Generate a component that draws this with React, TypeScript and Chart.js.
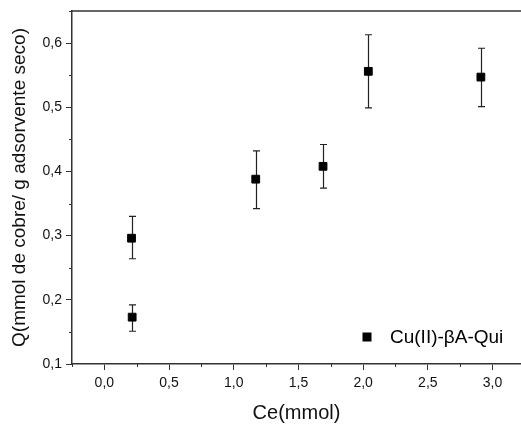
import React, { useEffect, useRef } from "react";
import { Chart, registerables } from "chart.js";

Chart.register(...registerables);

const seriesLabel = "Cu(II)-βA-Qui";
const ceValues = [0.21, 0.215, 1.17, 1.69, 2.04, 2.91];
const qValues = [0.296, 0.173, 0.388, 0.408, 0.556, 0.547];
const qErrHigh = [0.33, 0.192, 0.432, 0.442, 0.613, 0.592];
const qErrLow = [0.264, 0.151, 0.342, 0.374, 0.499, 0.501];
const xTicks = [0, 0.5, 1.0, 1.5, 2.0, 2.5, 3.0];
const yTicks = [0.1, 0.2, 0.3, 0.4, 0.5, 0.6];
const xMinorTicks = [-0.25, 0.25, 0.75, 1.25, 1.75, 2.25, 2.75, 3.25];
const yMinorTicks = [0.15, 0.25, 0.35, 0.45, 0.55, 0.65];

const FONT = "Arial, 'Liberation Sans', sans-serif";
const fmt = (v: number) => v.toFixed(1).replace(".", ",");

const decorPlugin = {
  id: "decor",
  beforeDatasetsDraw(chart: any) {
    const { ctx, scales } = chart;
    const xs = scales.x;
    const ys = scales.y;
    ctx.save();
    ctx.strokeStyle = "#222";
    ctx.lineWidth = 1.2;
    for (let i = 0; i < ceValues.length; i++) {
      const px = Math.round(xs.getPixelForValue(ceValues[i])) + 0.5;
      const top = ys.getPixelForValue(qErrHigh[i]);
      const bot = ys.getPixelForValue(qErrLow[i]);
      ctx.beginPath();
      ctx.moveTo(px, top);
      ctx.lineTo(px, bot);
      ctx.moveTo(px - 3.5, top);
      ctx.lineTo(px + 3.5, top);
      ctx.moveTo(px - 3.5, bot);
      ctx.lineTo(px + 3.5, bot);
      ctx.stroke();
    }
    ctx.restore();
  },
  afterDraw(chart: any) {
    const { ctx, chartArea, scales } = chart;
    const xs = scales.x;
    const ys = scales.y;
    ctx.save();
    ctx.strokeStyle = "#333";
    ctx.lineWidth = 1.5;
    ctx.beginPath();
    ctx.moveTo(chartArea.left, chartArea.top);
    ctx.lineTo(chartArea.right, chartArea.top);
    ctx.stroke();
    ctx.lineWidth = 1;
    ctx.beginPath();
    for (const v of xMinorTicks) {
      const px = Math.round(xs.getPixelForValue(v)) + 0.5;
      if (px < chartArea.left - 1 || px > chartArea.right) continue;
      ctx.moveTo(px, chartArea.bottom);
      ctx.lineTo(px, chartArea.bottom + 3);
    }
    for (const v of yMinorTicks) {
      const py = Math.round(ys.getPixelForValue(v)) + 0.5;
      if (py < chartArea.top || py > chartArea.bottom) continue;
      ctx.moveTo(chartArea.left, py);
      ctx.lineTo(chartArea.left - 3, py);
    }
    ctx.stroke();
    // legend
    const mx = chartArea.right - 154;
    const my = chartArea.bottom - 27;
    ctx.fillStyle = "#000";
    ctx.fillRect(mx - 4.5, my - 4.5, 9, 9);
    ctx.font = `19px ${FONT}`;
    ctx.textBaseline = "middle";
    ctx.textAlign = "left";
    ctx.fillText(seriesLabel, mx + 23, my + 1);
    ctx.restore();
  },
};

export default function App() {
  const ref = useRef<HTMLCanvasElement>(null);
  useEffect(() => {
    if (!ref.current) return;
    const chart = new Chart(ref.current, {
      type: "scatter",
      data: {
        datasets: [
          {
            label: seriesLabel,
            data: ceValues.map((x, i) => ({ x, y: qValues[i] })),
            pointStyle: "rect",
            pointRadius: 5.5,
            pointBorderWidth: 1,
            backgroundColor: "#000",
            borderColor: "#000",
          },
        ],
      },
      options: {
        responsive: false,
        animation: false,
        layout: { autoPadding: false, padding: { top: 11, left: 0, right: 0, bottom: 0 } },
        plugins: { legend: { display: false }, tooltip: { enabled: false } },
        scales: {
          x: {
            type: "linear",
            min: -0.25,
            max: 3.22,
            afterBuildTicks: (s: any) => {
              s.ticks = xTicks.map((v) => ({ value: v }));
            },
            afterFit: (s: any) => {
              s.height = 65;
              s.paddingLeft = 0;
              s.paddingRight = 0;
            },
            ticks: {
              callback: (v: any) => fmt(Number(v)),
              font: { family: FONT, size: 14 },
              color: "#111",
              padding: 5,
              maxRotation: 0,
            },
            grid: {
              drawOnChartArea: false,
              drawTicks: true,
              tickLength: 6,
              color: "#333",
              lineWidth: 1,
            },
            border: { display: true, color: "#333", width: 1.5 },
            title: {
              display: true,
              text: "Ce(mmol)",
              font: { family: FONT, size: 20 },
              color: "#111",
              padding: { top: 4, bottom: 4 },
            },
          },
          y: {
            type: "linear",
            min: 0.1,
            max: 0.65,
            afterBuildTicks: (s: any) => {
              s.ticks = yTicks.map((v) => ({ value: v }));
            },
            afterFit: (s: any) => {
              s.width = 72;
              s.paddingTop = 0;
              s.paddingBottom = 0;
            },
            ticks: {
              callback: (v: any) => fmt(Number(v)),
              font: { family: FONT, size: 14 },
              color: "#111",
              padding: 4,
            },
            grid: {
              drawOnChartArea: false,
              drawTicks: true,
              tickLength: 6,
              color: "#333",
              lineWidth: 1,
            },
            border: { display: true, color: "#333", width: 1.5 },
            title: {
              display: true,
              text: "Q(mmol de cobre/ g adsorvente seco)",
              font: { family: FONT, size: 19 },
              color: "#111",
              padding: { top: 8, bottom: 4 },
            },
          },
        },
      },
      plugins: [decorPlugin],
    });
    return () => chart.destroy();
  }, []);
  return (
    <div style={{ position: "absolute", left: 0, top: 0, width: 521, height: 429, background: "#fff" }}>
      <canvas ref={ref} width={521} height={429} />
    </div>
  );
}
